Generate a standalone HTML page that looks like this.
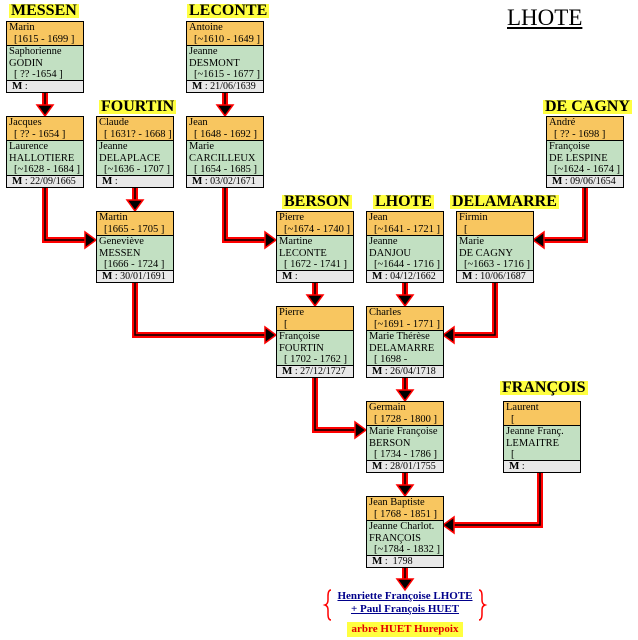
<!DOCTYPE html>
<html><head><meta charset="utf-8"><style>
body{margin:0;width:638px;height:640px;background:#fff;position:relative;overflow:hidden;font-family:"Liberation Serif",serif;}
.b{position:absolute;width:76px;border:1px solid #000;font-size:10.5px;line-height:11.5px;color:#000;}
.h{background:#f8c660;height:23px;border-bottom:1px solid #000;padding-left:2px;overflow:hidden;white-space:nowrap}
.g{background:#c2e0c2;height:34px;border-bottom:1px solid #000;padding-left:2px;overflow:hidden;white-space:nowrap}
.m{background:#e8e8e8;height:11px;padding-left:5px;font-size:10px;line-height:11px;white-space:nowrap}
.m b{font-size:11px}
.i{padding-left:5px}
.f{position:absolute;background:#ffff40;font-weight:bold;font-size:16px;line-height:14px;padding:0 2px;white-space:nowrap}
svg{position:absolute;left:0;top:0}
</style></head><body>
<svg width="638" height="640">
<g fill="none" stroke-linejoin="miter">
<g stroke="#f00" stroke-width="6">
<path d="M45 92V108"/><path d="M225 92V108"/>
<path d="M45 187V240H88"/><path d="M135 187V203"/>
<path d="M225 187V240H268"/><path d="M585 187V240H541"/>
<path d="M135 282V335H268"/><path d="M315 282V298"/><path d="M405 282V298"/>
<path d="M495 282V335H451"/>
<path d="M315 377V430H358"/><path d="M405 377V393"/>
<path d="M540 472V525H451"/><path d="M405 472V488"/><path d="M405 567V582"/>
</g>
<g stroke="#000" stroke-width="1.5">
<path d="M45 92V108"/><path d="M225 92V108"/>
<path d="M45 187V240H88"/><path d="M135 187V203"/>
<path d="M225 187V240H268"/><path d="M585 187V240H541"/>
<path d="M135 282V335H268"/><path d="M315 282V298"/><path d="M405 282V298"/>
<path d="M495 282V335H451"/>
<path d="M315 377V430H358"/><path d="M405 377V393"/>
<path d="M540 472V525H451"/><path d="M405 472V488"/><path d="M405 567V582"/>
</g>
</g>
<g fill="#000" stroke="#f00" stroke-width="1.5">
<polygon points="37,105 53,105 45,116"/><polygon points="217,105 233,105 225,116"/>
<polygon points="127,200 143,200 135,211"/>
<polygon points="307,295 323,295 315,306"/><polygon points="397,295 413,295 405,306"/>
<polygon points="397,390 413,390 405,401"/><polygon points="397,485 413,485 405,496"/>
<polygon points="397,579 413,579 405,590"/>
<polygon points="85,232 85,248 96,240"/><polygon points="265,232 265,248 276,240"/>
<polygon points="265,327 265,343 276,335"/><polygon points="355,422 355,438 366,430"/>
<polygon points="544,232 544,248 533,240"/><polygon points="454,327 454,343 443,335"/>
<polygon points="454,517 454,533 443,525"/>
</g>
<g fill="none" stroke="#f00" stroke-width="1.5">
<path d="M331 590 q-3 0 -3 6 v4 q0 4 -3 5 q3 1 3 5 v4 q0 6 3 6"/>
<path d="M479 590 q3 0 3 6 v4 q0 4 3 5 q-3 1 -3 5 v4 q0 6 -3 6"/>
</g>
</svg>

<div style="position:absolute;left:507px;top:5px;font-size:23px;text-decoration:underline;">LHOTE</div>

<div class="f" style="left:9px;top:4px">MESSEN</div>
<div class="f" style="left:187px;top:4px">LECONTE</div>
<div class="f" style="left:99px;top:100px">FOURTIN</div>
<div class="f" style="left:543px;top:100px">DE CAGNY</div>
<div class="f" style="left:282px;top:195px">BERSON</div>
<div class="f" style="left:373px;top:195px">LHOTE</div>
<div class="f" style="left:450px;top:195px">DELAMARRE</div>
<div class="f" style="left:500px;top:381px">FRANÇOIS</div>

<div class="b" style="left:6px;top:21px"><div class="h">Marin<br><span class="i">[1615 - 1699 ]</span></div><div class="g">Saphorienne<br>GODIN<br><span class="i">[ ?? -1654 ]</span></div><div class="m"><b>M</b> :</div></div>
<div class="b" style="left:186px;top:21px"><div class="h">Antoine<br><span class="i">[~1610 - 1649 ]</span></div><div class="g">Jeanne<br>DESMONT<br><span class="i">[~1615 - 1677 ]</span></div><div class="m"><b>M</b> : 21/06/1639</div></div>

<div class="b" style="left:6px;top:116px"><div class="h">Jacques<br><span class="i">[ ?? - 1654 ]</span></div><div class="g">Laurence<br>HALLOTIERE<br><span class="i">[~1628 - 1684 ]</span></div><div class="m"><b>M</b> : 22/09/1665</div></div>
<div class="b" style="left:96px;top:116px"><div class="h">Claude<br><span class="i">[ 1631? - 1668 ]</span></div><div class="g">Jeanne<br>DELAPLACE<br><span class="i">[~1636 - 1707 ]</span></div><div class="m"><b>M</b> :</div></div>
<div class="b" style="left:186px;top:116px"><div class="h">Jean<br><span class="i">[ 1648 - 1692 ]</span></div><div class="g">Marie<br>CARCILLEUX<br><span class="i">[ 1654 - 1685 ]</span></div><div class="m"><b>M</b> : 03/02/1671</div></div>
<div class="b" style="left:546px;top:116px"><div class="h">André<br><span class="i">[ ?? - 1698 ]</span></div><div class="g">Françoise<br>DE LESPINE<br><span class="i">[~1624 - 1674 ]</span></div><div class="m"><b>M</b> : 09/06/1654</div></div>

<div class="b" style="left:96px;top:211px"><div class="h">Martin<br><span class="i">[1665 - 1705 ]</span></div><div class="g">Geneviève<br>MESSEN<br><span class="i">[1666 - 1724 ]</span></div><div class="m"><b>M</b> : 30/01/1691</div></div>
<div class="b" style="left:276px;top:211px"><div class="h">Pierre<br><span class="i">[~1674 - 1740 ]</span></div><div class="g">Martine<br>LECONTE<br><span class="i">[ 1672 - 1741 ]</span></div><div class="m"><b>M</b> :</div></div>
<div class="b" style="left:366px;top:211px"><div class="h">Jean<br><span class="i">[~1641 - 1721 ]</span></div><div class="g">Jeanne<br>DANJOU<br><span class="i">[~1644 - 1716 ]</span></div><div class="m"><b>M</b> : 04/12/1662</div></div>
<div class="b" style="left:456px;top:211px"><div class="h">Firmin<br><span class="i">[</span></div><div class="g">Marie<br>DE CAGNY<br><span class="i">[~1663 - 1716 ]</span></div><div class="m"><b>M</b> : 10/06/1687</div></div>

<div class="b" style="left:276px;top:306px"><div class="h">Pierre<br><span class="i">[</span></div><div class="g">Françoise<br>FOURTIN<br><span class="i">[ 1702 - 1762 ]</span></div><div class="m"><b>M</b> : 27/12/1727</div></div>
<div class="b" style="left:366px;top:306px"><div class="h">Charles<br><span class="i">[~1691 - 1771 ]</span></div><div class="g">Marie Thérèse<br>DELAMARRE<br><span class="i">[ 1698 -</span></div><div class="m"><b>M</b> : 26/04/1718</div></div>

<div class="b" style="left:366px;top:401px"><div class="h">Germain<br><span class="i">[ 1728 - 1800 ]</span></div><div class="g">Marie Françoise<br>BERSON<br><span class="i">[ 1734 - 1786 ]</span></div><div class="m"><b>M</b> : 28/01/1755</div></div>
<div class="b" style="left:503px;top:401px"><div class="h">Laurent<br><span class="i">[</span></div><div class="g">Jeanne Franç.<br>LEMAITRE<br><span class="i">[</span></div><div class="m"><b>M</b> :</div></div>

<div class="b" style="left:366px;top:496px"><div class="h">Jean Baptiste<br><span class="i">[ 1768 - 1851 ]</span></div><div class="g">Jeanne Charlot.<br>FRANÇOIS<br><span class="i">[~1784 - 1832 ]</span></div><div class="m"><b>M</b> :&nbsp; 1798</div></div>

<div style="position:absolute;left:326px;top:590px;width:158px;text-align:center;font-weight:bold;font-size:11px;line-height:13px;color:#00008b;text-decoration:underline">Henriette Françoise LHOTE<br>+ Paul François HUET</div>
<div style="position:absolute;left:347px;top:622px;width:116px;height:15px;background:#ffff40;color:#e00000;font-weight:bold;font-size:11px;line-height:15px;text-align:center">arbre HUET Hurepoix</div>
</body></html>
